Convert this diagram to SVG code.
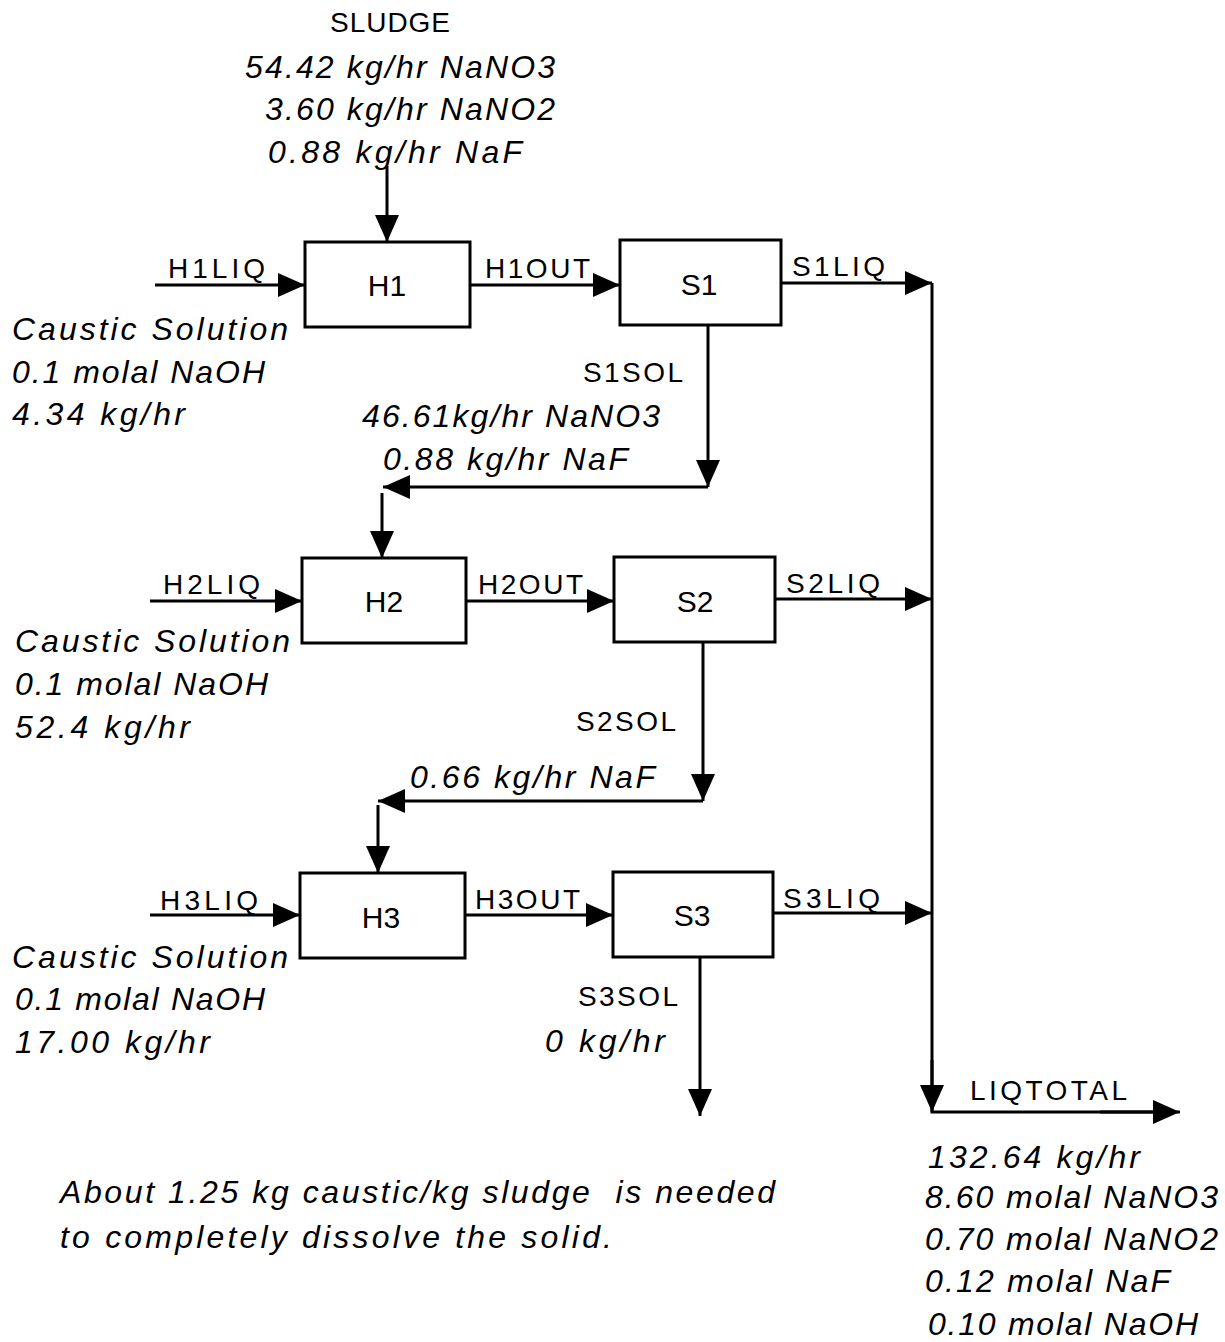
<svg xmlns="http://www.w3.org/2000/svg" width="1225" height="1342" viewBox="0 0 1225 1342">
<defs>
<marker id="ah" markerUnits="userSpaceOnUse" markerWidth="30" markerHeight="24" refX="27" refY="12" orient="auto">
<path d="M0,0 L27,12 L0,24 Z" fill="#000"/>
</marker>
<style>
.box{fill:#fff;stroke:#000;stroke-width:3}
.ln{fill:none;stroke:#000;stroke-width:3;marker-end:url(#ah)}
.pl{fill:none;stroke:#000;stroke-width:3}
.lb{font-family:"Liberation Sans",Arial,sans-serif;font-size:28px;fill:#000}
.nm{font-family:"Liberation Sans",Arial,sans-serif;font-size:30px;fill:#000;text-anchor:middle}
.it{font-family:"Liberation Sans",Arial,sans-serif;font-size:32px;font-style:italic;fill:#000}
</style>
</defs>
<rect width="1225" height="1342" fill="#fff"/>
<g id="connectors">
<line class="ln" x1="387" y1="166" x2="387" y2="242"/>
<line class="ln" x1="155" y1="285" x2="305" y2="285"/>
<line class="ln" x1="470" y1="285" x2="620" y2="285"/>
<line class="ln" x1="781" y1="283" x2="932" y2="283"/>
<polyline class="pl" points="932,283 932,1112 1155,1112"/>
<line class="ln" x1="932" y1="1060" x2="932" y2="1112"/>
<line class="ln" x1="1100" y1="1112" x2="1180" y2="1112"/>
<line class="ln" x1="708" y1="325" x2="708" y2="487"/>
<line class="ln" x1="708" y1="487" x2="383" y2="487"/>
<line class="ln" x1="382" y1="493" x2="382" y2="558"/>
<line class="ln" x1="150" y1="601" x2="302" y2="601"/>
<line class="ln" x1="466" y1="601" x2="614" y2="601"/>
<line class="ln" x1="775" y1="599" x2="932" y2="599"/>
<line class="ln" x1="703" y1="642" x2="703" y2="801"/>
<line class="ln" x1="703" y1="801" x2="378" y2="801"/>
<line class="ln" x1="378" y1="805" x2="378" y2="873"/>
<line class="ln" x1="150" y1="915" x2="300" y2="915"/>
<line class="ln" x1="465" y1="915" x2="613" y2="915"/>
<line class="ln" x1="773" y1="913" x2="932" y2="913"/>
<line class="ln" x1="700" y1="957" x2="700" y2="1116"/>
</g>
<g id="H1"><rect class="box" x="305" y="242" width="165" height="85"/><text class="nm" x="387" y="296">H1</text></g>
<g id="S1"><rect class="box" x="620" y="240" width="161" height="85"/><text class="nm" x="699" y="295">S1</text></g>
<g id="H2"><rect class="box" x="302" y="558" width="164" height="85"/><text class="nm" x="384" y="612">H2</text></g>
<g id="S2"><rect class="box" x="614" y="557" width="161" height="85"/><text class="nm" x="695" y="612">S2</text></g>
<g id="H3"><rect class="box" x="300" y="873" width="165" height="85"/><text class="nm" x="381" y="928">H3</text></g>
<g id="S3"><rect class="box" x="613" y="872" width="160" height="85"/><text class="nm" x="692" y="926">S3</text></g>
<g id="labels">
<text class="lb" x="330" y="32" textLength="120" lengthAdjust="spacing">SLUDGE</text>
<text class="it" x="245" y="78" textLength="310" lengthAdjust="spacing">54.42 kg/hr NaNO3</text>
<text class="it" x="265" y="120" textLength="290" lengthAdjust="spacing">3.60 kg/hr NaNO2</text>
<text class="it" x="268" y="163" textLength="254" lengthAdjust="spacing">0.88 kg/hr NaF</text>
<text class="lb" x="168" y="278" textLength="97" lengthAdjust="spacing">H1LIQ</text>
<text class="lb" x="485" y="278" textLength="105" lengthAdjust="spacing">H1OUT</text>
<text class="lb" x="792" y="276" textLength="93" lengthAdjust="spacing">S1LIQ</text>
<text class="it" x="12" y="340" textLength="276" lengthAdjust="spacing">Caustic Solution</text>
<text class="it" x="12" y="383" textLength="253" lengthAdjust="spacing">0.1 molal NaOH</text>
<text class="it" x="12" y="425" textLength="173" lengthAdjust="spacing">4.34 kg/hr</text>
<text class="lb" x="583" y="382" textLength="100" lengthAdjust="spacing">S1SOL</text>
<text class="it" x="362" y="427" textLength="298" lengthAdjust="spacing">46.61kg/hr NaNO3</text>
<text class="it" x="383" y="470" textLength="245" lengthAdjust="spacing">0.88 kg/hr NaF</text>
<text class="lb" x="163" y="594" textLength="97" lengthAdjust="spacing">H2LIQ</text>
<text class="lb" x="478" y="594" textLength="105" lengthAdjust="spacing">H2OUT</text>
<text class="lb" x="786" y="593" textLength="94" lengthAdjust="spacing">S2LIQ</text>
<text class="it" x="15" y="652" textLength="275" lengthAdjust="spacing">Caustic Solution</text>
<text class="it" x="15" y="695" textLength="253" lengthAdjust="spacing">0.1 molal NaOH</text>
<text class="it" x="15" y="738" textLength="175" lengthAdjust="spacing">52.4 kg/hr</text>
<text class="lb" x="576" y="731" textLength="100" lengthAdjust="spacing">S2SOL</text>
<text class="it" x="410" y="788" textLength="245" lengthAdjust="spacing">0.66 kg/hr NaF</text>
<text class="lb" x="160" y="910" textLength="98" lengthAdjust="spacing">H3LIQ</text>
<text class="lb" x="475" y="909" textLength="105" lengthAdjust="spacing">H3OUT</text>
<text class="lb" x="783" y="908" textLength="97" lengthAdjust="spacing">S3LIQ</text>
<text class="it" x="12" y="968" textLength="276" lengthAdjust="spacing">Caustic Solution</text>
<text class="it" x="15" y="1010" textLength="250" lengthAdjust="spacing">0.1 molal NaOH</text>
<text class="it" x="15" y="1053" textLength="195" lengthAdjust="spacing">17.00 kg/hr</text>
<text class="lb" x="578" y="1006" textLength="100" lengthAdjust="spacing">S3SOL</text>
<text class="it" x="545" y="1052" textLength="120" lengthAdjust="spacing">0 kg/hr</text>
<text class="lb" x="970" y="1100" textLength="157" lengthAdjust="spacing">LIQTOTAL</text>
<text class="it" x="928" y="1168" textLength="212" lengthAdjust="spacing">132.64 kg/hr</text>
<text class="it" x="925" y="1208" textLength="293" lengthAdjust="spacing">8.60 molal NaNO3</text>
<text class="it" x="925" y="1250" textLength="293" lengthAdjust="spacing">0.70 molal NaNO2</text>
<text class="it" x="925" y="1292" textLength="245" lengthAdjust="spacing">0.12 molal NaF</text>
<text class="it" x="928" y="1335" textLength="270" lengthAdjust="spacing">0.10 molal NaOH</text>
<text class="it" x="60" y="1203" textLength="715" lengthAdjust="spacing" xml:space="preserve">About 1.25 kg caustic/kg sludge  is needed</text>
<text class="it" x="60" y="1248" textLength="552" lengthAdjust="spacing">to completely dissolve the solid.</text>
</g>
</svg>
